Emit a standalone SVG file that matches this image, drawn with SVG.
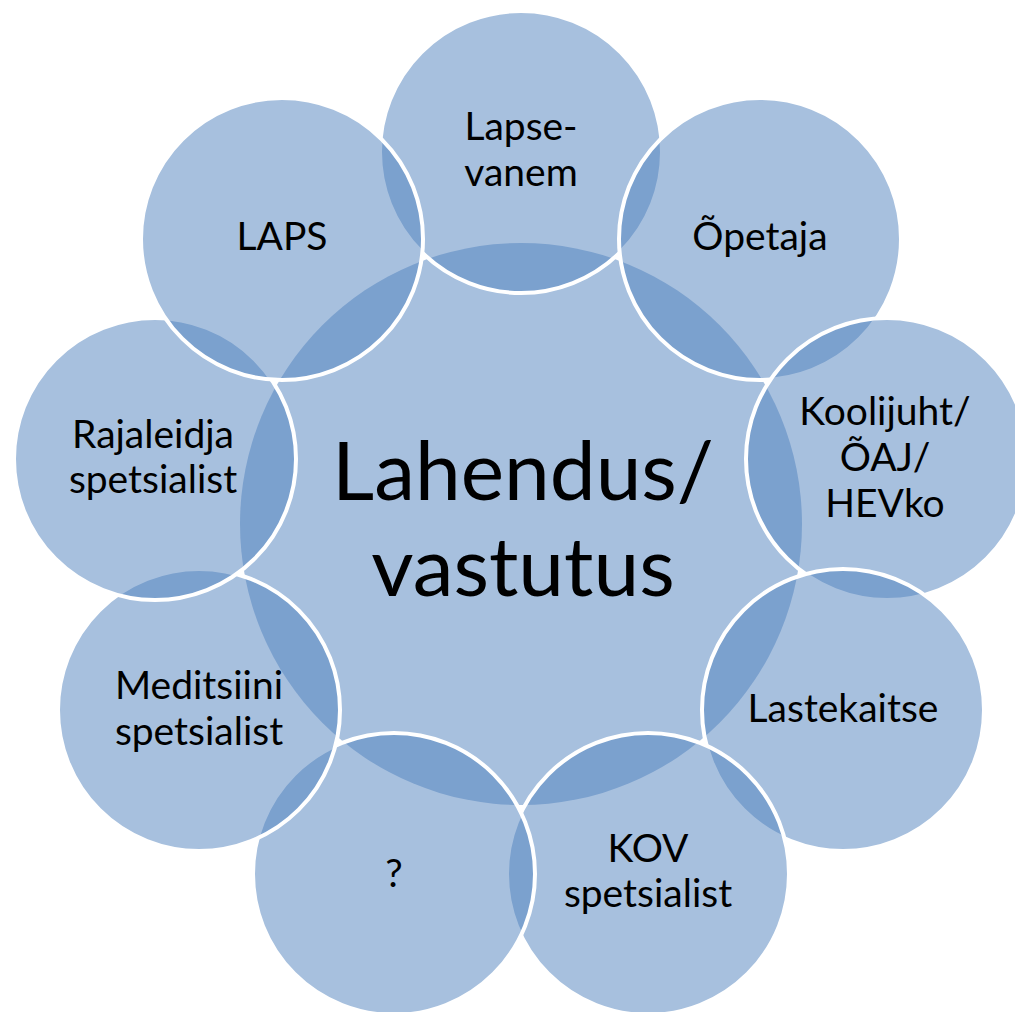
<svg xmlns="http://www.w3.org/2000/svg" width="1015" height="1012" viewBox="0 0 1015 1012">
<style>
.hub{fill:#4F81BD;fill-opacity:0.5;stroke:none}
.sat{fill:#4F81BD;fill-opacity:0.5;stroke:#FFFFFF;stroke-width:4}
.t{font-family:Lato,"Open Sans","Liberation Sans",sans-serif;font-size:39px;fill:#000;text-anchor:middle}
.big{font-family:Lato,"Open Sans","Liberation Sans",sans-serif;font-size:82px;fill:#000;text-anchor:middle}
</style>
<rect width="1015" height="1012" fill="#FFFFFF"/>
<g id="connectors"></g>
<g id="node-center">
<circle class="hub" cx="521" cy="524" r="281"/>
<text class="big" x="523" y="500">Lahendus/</text>
<text class="big" x="523" y="596">vastutus</text>
</g>
<g id="node-lapsevanem">
<circle class="sat" cx="521" cy="152" r="141"/>
<text class="t" x="521" y="140">Lapse-</text>
<text class="t" x="521" y="186">vanem</text>
</g>
<g id="node-opetaja">
<circle class="sat" cx="760" cy="239" r="141"/>
<text class="t" x="760" y="250">Õpetaja</text>
</g>
<g id="node-koolijuht">
<circle class="sat" cx="887" cy="459" r="141"/>
<text class="t" x="885" y="425">Koolijuht/</text>
<text class="t" x="885" y="471">ÕAJ/</text>
<text class="t" x="885" y="517">HEVko</text>
</g>
<g id="node-lastekaitse">
<circle class="sat" cx="843" cy="710" r="141"/>
<text class="t" x="843" y="722">Lastekaitse</text>
</g>
<g id="node-kov">
<circle class="sat" cx="648" cy="874" r="141"/>
<text class="t" x="648" y="862">KOV</text>
<text class="t" x="648" y="907">spetsialist</text>
</g>
<g id="node-question">
<circle class="sat" cx="394" cy="874" r="141"/>
<text class="t" x="394" y="887">?</text>
</g>
<g id="node-meditsiini">
<circle class="sat" cx="199" cy="710" r="141"/>
<text class="t" x="199" y="699">Meditsiini</text>
<text class="t" x="199" y="745">spetsialist</text>
</g>
<g id="node-rajaleidja">
<circle class="sat" cx="155" cy="459" r="141"/>
<text class="t" x="153" y="448">Rajaleidja</text>
<text class="t" x="153" y="493">spetsialist</text>
</g>
<g id="node-laps">
<circle class="sat" cx="282" cy="239" r="141"/>
<text class="t" x="282" y="250">LAPS</text>
</g>
</svg>
